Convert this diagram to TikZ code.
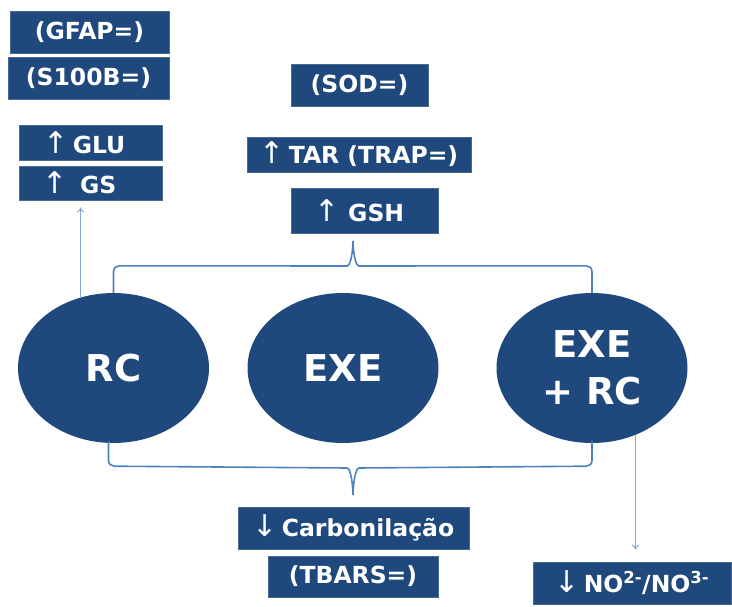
\documentclass[tikz,border=0pt]{standalone}
\usepackage{fontspec}
\setmainfont{DejaVu Sans}
\usetikzlibrary{arrows.meta,calc,shapes.geometric}
\definecolor{navy}{HTML}{1F497D}
\definecolor{navyedge}{HTML}{4A6A92}
\definecolor{bracecol}{HTML}{4F81BD}
\definecolor{arrcol}{HTML}{84A9DA}
\newcommand{\upar}{{\fontsize{30}{24}\selectfont\mdseries ↑}}
\newcommand{\dnar}{{\fontsize{30}{24}\selectfont\mdseries ↓}}
\tikzset{
  box/.style={rectangle, fill=navy, draw=navyedge, line width=0.8pt, text=white,
    font=\fontsize{23.5}{24}\selectfont\bfseries, inner sep=0pt, align=center},
  blob/.style={ellipse, fill=navy, draw=none, text=white, minimum width=191pt, minimum height=150pt,
    inner sep=0pt, font=\fontsize{37}{47}\selectfont\bfseries, align=center},
  brace/.style={draw=bracecol, line width=1.6pt},
  thinarrow/.style={draw=arrcol, line width=1pt, -{To[length=5pt,width=7pt]}}
}
\begin{document}
\begin{tikzpicture}[x=1pt,y=-1pt]
\useasboundingbox (0,0) rectangle (732,607);
% boxes
\node[box, minimum width=159pt, minimum height=42pt] (gfap) at (89.5,32) {(GFAP=)};
\node[box, minimum width=161pt, minimum height=42pt] (s100b) at (88.5,78) {(S100B=)};
\node[box, minimum width=143pt, minimum height=35pt] (glu) at (90.5,142.5) {\upar\,GLU\hspace{12pt}};
\node[box, minimum width=143pt, minimum height=34pt] (gs) at (90.5,183) {\upar\ \,GS\hspace{22pt}};
\node[box, minimum width=137pt, minimum height=42pt] (sod) at (359.5,85) {(SOD=)};
\node[box, minimum width=224pt, minimum height=35pt] (tar) at (359,154.5) {\upar\,TAR (TRAP=)};
\node[box, minimum width=147pt, minimum height=45pt] (gsh) at (364.5,210.5) {\upar\ GSH\hspace{10pt}};
\node[box, minimum width=231pt, minimum height=42pt] (carb) at (353.5,528) {\dnar\,Carbonilação};
\node[box, minimum width=170pt, minimum height=41pt] (tbars) at (353,576.5) {(TBARS=)};
\node[box, minimum width=198pt, minimum height=42pt] (no) at (632,583) {\dnar\,NO\textsuperscript{2-}/NO\textsuperscript{3-}};
% ellipses
\node[blob] (rc) at (113.5,368) {RC};
\node[blob] (exe) at (343,368) {EXE};
\node[blob] (exerc) at (592,368) {EXE\\+ RC};
% top brace
\coordinate (ttip) at (353,241);
\draw[brace] (rc.north) -- ++(0,-21) .. controls +(0,-4) and +(-3,0) .. ++(6,-6)
  -- ($(ttip)+(-6,25)$) .. controls +(4,0) and +(0,8) .. (ttip)
  .. controls +(0,8) and +(-4,0) .. ($(ttip)+(6,25)$)
  -- ($(exerc.north)+(-6,-27)$) .. controls +(3,0) and +(0,-4) .. ($(exerc.north)+(0,-21)$) -- (exerc.north);
% bottom brace
\coordinate (btip) at (353,495);
\coordinate (bl) at ($(rc.south)+(-5,-2)$);
\coordinate (br) at ($(exerc.south)+(0,-2)$);
\draw[brace] (bl) -- ++(0,19) .. controls +(0,4) and +(-3,0) .. ++(6,6)
  -- ($(btip)+(-6,-27)$) .. controls +(4,0) and +(0,-8) .. (btip)
  .. controls +(0,-8) and +(-4,0) .. ($(btip)+(6,-27)$)
  -- ($(br)+(-6,25)$) .. controls +(3,0) and +(0,4) .. ($(br)+(0,19)$) -- (br);
% arrows
\draw[thinarrow, shorten >=7pt] (rc.115) -- (rc.115 |- gs.south);
\draw[thinarrow, shorten >=12pt] (exerc.-57.5) -- (exerc.-57.5 |- no.north);
\end{tikzpicture}
\end{document}
